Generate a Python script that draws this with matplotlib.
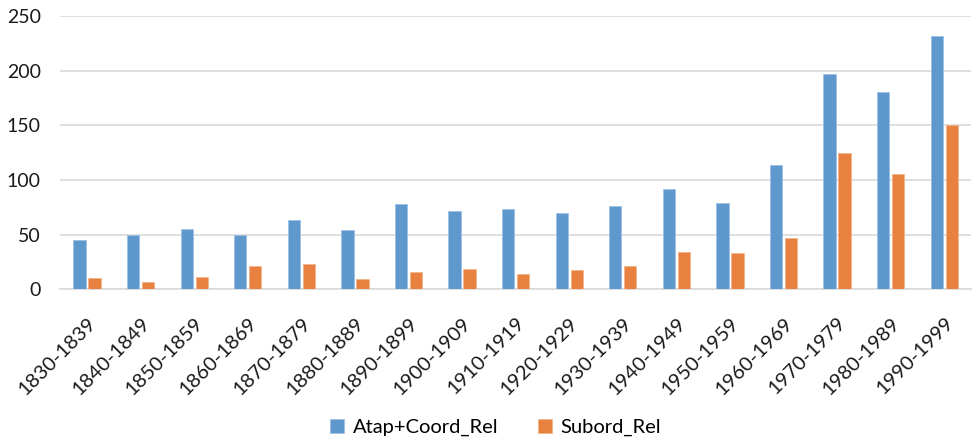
from matplotlib import pyplot as plt
import numpy as np

plt.rcParams['font.family'] = ['Lato', 'DejaVu Sans']

decades = ['1830-1839', '1840-1849', '1850-1859', '1860-1869', '1870-1879',
           '1880-1889', '1890-1899', '1900-1909', '1910-1919', '1920-1929',
           '1930-1939', '1940-1949', '1950-1959', '1960-1969', '1970-1979',
           '1980-1989', '1990-1999']
atap_coord = [45, 50, 55, 50, 63, 54, 78, 72, 73, 70, 76, 92, 79, 114, 197, 180, 232]
subord = [10, 7, 11, 21, 23, 9, 16, 19, 14, 18, 21, 34, 33, 47, 125, 105, 150]

blue = '#5F98CC'
orange = '#E8803F'
grid_col = '#D9D9D9'

fig = plt.figure(figsize=(9.72, 4.41), dpi=100)
ax = fig.add_axes([0.062, 0.344, 0.937, 0.62])

x = np.arange(len(decades))
w = 0.23
ax.bar(x - 0.14, atap_coord, w, color=blue, edgecolor='#9DC0E3', linewidth=0.6,
       label='Atap+Coord_Rel', zorder=3)
ax.bar(x + 0.14, subord, w, color=orange, edgecolor='#F2B48C', linewidth=0.6,
       label='Subord_Rel', zorder=3)

ax.set_xlim(-0.5, len(decades) - 0.5)
ax.set_ylim(0, 250)
ax.set_yticks(range(0, 251, 50))
ax.yaxis.grid(True, color=grid_col, linewidth=1.2, zorder=0)
ax.set_axisbelow(True)

for s in ['top', 'right', 'left']:
    ax.spines[s].set_visible(False)
ax.spines['bottom'].set_color(grid_col)
ax.spines['bottom'].set_linewidth(1.2)

ax.set_xticks(x)
ax.set_xticklabels(decades, rotation=45, ha='right', rotation_mode='anchor')
ax.tick_params(axis='x', length=0, pad=18, labelsize=14.5, labelcolor='#1a1a1a')
ax.tick_params(axis='y', length=0, pad=14, labelsize=14, labelcolor='#1a1a1a')

fig.legend(loc='center', bbox_to_anchor=(0.51, 0.03), ncol=2, frameon=False,
           fontsize=14.5, handlelength=0.7, handleheight=0.7, handletextpad=0.4,
           columnspacing=2.0)

fig.savefig('out.png', dpi=100)
